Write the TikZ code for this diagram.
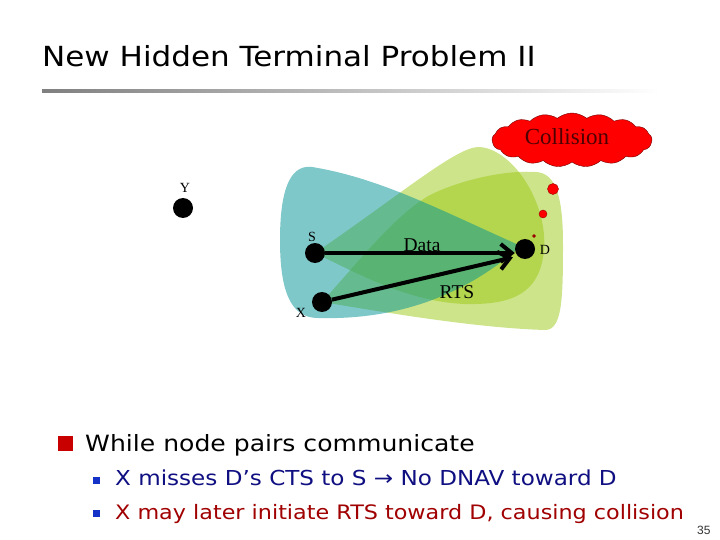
\documentclass[tikz,border=0pt]{standalone}
\usepackage{fontspec}
\usepackage{tikz}
\usetikzlibrary{arrows.meta, shapes.symbols}
\newfontfamily\slidefont[FakeStretch=1.12]{DejaVu Sans}
\newfontfamily\diagfont{Liberation Serif}
\newfontfamily\numfont{Liberation Sans}
\definecolor{rangeteal}{RGB}{0,145,150}
\definecolor{rangelime}{RGB}{155,201,21}
\definecolor{bulletred}{RGB}{200,0,0}
\definecolor{bulletblue}{RGB}{20,50,200}
\definecolor{textnavy}{RGB}{15,15,130}
\definecolor{textmaroon}{RGB}{160,0,0}
\definecolor{cloudred}{RGB}{255,0,0}

\begin{document}
\begin{tikzpicture}[
    x=1pt, y=-1pt,
    station/.style={circle, fill=black, inner sep=0pt, minimum size=20pt},
    stalbl/.style={inner sep=0pt, font=\diagfont\fontsize{14}{14}\selectfont},
    msglbl/.style={inner sep=0pt, font=\diagfont\fontsize{19.5}{20}\selectfont},
    msgarrow/.style={line width=4pt, -{Straight Barb[length=11pt, width=18pt]}},
    tealrange/.style={fill=rangeteal, fill opacity=0.5},
    limerange/.style={fill=rangelime, fill opacity=0.5},
    reddot/.style={circle, fill=cloudred, draw=red!60!black, thin, inner sep=0pt},
    collcloud/.style={cloud, cloud puffs=17, cloud puff arc=80, aspect=2.9,
        fill=cloudred, draw=red!45!black, thin, inner sep=0pt,
        minimum width=160pt, minimum height=54pt},
    mainbullet/.style={fill=bulletred, inner sep=0pt, minimum size=15pt},
    subbullet/.style={fill=bulletblue, inner sep=0pt, minimum size=7pt},
    linetxt/.style={anchor=base west, inner sep=0pt}
]
\useasboundingbox (0,0) rectangle (720,540);
% Text baselines
\def\yTitle{67}  \def\yOne{451}  \def\yTwo{485}  \def\yThree{519}
% Title and shaded rule
\node[linetxt, font=\slidefont\fontsize{27.7}{30}\selectfont] (title) at (42,\yTitle)
    {New Hidden Terminal Problem II};
\shade[left color=black!50, right color=white] (42,89.5) rectangle (660,92.5);
% Transmission ranges (lime first, teal on top)
\path[limerange] (322,302) .. controls (360,260) and (395,215) .. (430,195)
    .. controls (460,180) and (505,170) .. (535,172)
    .. controls (557,172) and (563,200) .. (563,245)
    .. controls (563,300) and (562,330) .. (545,330)
    .. controls (480,328) and (400,315) .. (322,302) -- cycle;
\path[limerange] (315,253) .. controls (360,275) and (410,302) .. (465,304)
    .. controls (510,305) and (540,295) .. (544,250)
    .. controls (548,200) and (510,147) .. (478,147)
    .. controls (455,148) and (400,195) .. (315,253) -- cycle;
\path[tealrange] (521,246) .. controls (440,210) and (380,178) .. (312,167)
    .. controls (288,164) and (280,195) .. (280,240)
    .. controls (280,290) and (290,318) .. (318,318)
    .. controls (390,320) and (460,300) .. (521,246) -- cycle;
% Stations
\node[station] (Y) at (183,208) {};
\node[station] (S) at (315,253) {};
\node[station] (X) at (322,302) {};
\node[station] (D) at (525,249) {};
\node[stalbl] (lblY) at (185,188) {Y};
\node[stalbl] (lblS) at (312,237) {S};
\node[stalbl] (lblX) at (301,313) {X};
\node[stalbl] (lblD) at (545,250) {D};
% Other stations near D
\node[reddot, minimum size=11pt] (rA) at (553,189) {};
\node[reddot, minimum size=8pt] (rB) at (543,214) {};
\node[reddot, minimum size=3pt, fill=red!60!black] (rC) at (534,236) {};
% Frames
\draw[msgarrow] (S) -- (S -| D.west);
\draw[msgarrow, shorten >=5pt] (X) -- (D.south west);
\node[msglbl] (lblData) at (422,245) {Data};
\node[msglbl] (lblRTS) at (457,292) {RTS};
% Collision
\node[collcloud] (cloud) at (572,140) {};
\node[inner sep=0pt, font=\diagfont\fontsize{23}{23}\selectfont, text=red!30!black]
    (lblColl) at (567,137) {Collision};
% Bullets
\node[mainbullet] (b1) at (65,443) {};
\node[linetxt, font=\slidefont\fontsize{22.4}{24}\selectfont] (t1) at (85,\yOne)
    {While node pairs communicate};
\node[subbullet] (b2) at (96,480) {};
\node[linetxt, text=textnavy, font=\slidefont\fontsize{20.6}{22}\selectfont] (t2) at (115,\yTwo)
    {X misses D’s CTS to S → No DNAV toward D};
\node[subbullet] (b3) at (96,513) {};
\node[linetxt, text=textmaroon, font=\slidefont\fontsize{19.9}{22}\selectfont] (t3) at (115,\yThree)
    {X may later initiate RTS toward D, causing collision};
\node[linetxt, font=\numfont\fontsize{12}{12}\selectfont, text=black!80] (pgnum) at (697,534) {35};
\end{tikzpicture}
\end{document}
